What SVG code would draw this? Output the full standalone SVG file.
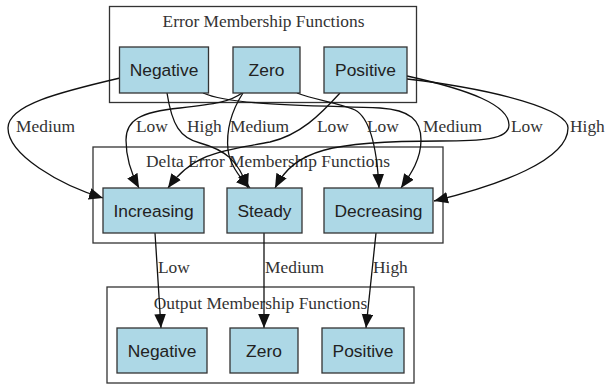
<svg xmlns="http://www.w3.org/2000/svg" width="606" height="386" viewBox="0 0 606 386">
<style>
.cl{fill:none;stroke:#333;stroke-width:1.3}
.nd{fill:#add8e6;stroke:#333;stroke-width:1.3}
.nt{font-family:"Liberation Sans",Arial,sans-serif;font-size:17.4px;fill:#222;text-anchor:middle}
.ct{font-family:"Liberation Serif","Times New Roman",serif;font-size:17.4px;fill:#333;text-anchor:middle}
.el{font-family:"Liberation Serif","Times New Roman",serif;font-size:17.4px;fill:#333}
.e{fill:none;stroke:#111;stroke-width:1.3;marker-end:url(#ah)}
</style>
<defs>
<marker id="ah" markerUnits="userSpaceOnUse" markerWidth="14" markerHeight="12" viewBox="0 0 12 10" refX="12" refY="5" orient="auto">
<path d="M0,0 L12,5 L0,10 Z" fill="#111"/>
</marker>
</defs>
<rect width="606" height="386" fill="#fff"/>
<g id="cluster_error">
<rect class="cl" x="109.5" y="6.5" width="307" height="96"/>
<text class="ct" x="263.5" y="27">Error Membership Functions</text>
</g>
<g id="cluster_delta">
<rect class="cl" x="93" y="147" width="350" height="96"/>
<text class="ct" x="268" y="167">Delta Error Membership Functions</text>
</g>
<g id="cluster_output">
<rect class="cl" x="107" y="287" width="307" height="96"/>
<text class="ct" x="260.5" y="309">Output Membership Functions</text>
</g>
<g id="connectors">
<path class="e" d="M120,78 C60,92 8,105 8,128 C8,155 60,185 103,198"/>
<text class="el" x="16" y="132">Medium</text>
<path class="e" d="M167,93 C172,125 180,138 200,143 C225,150 238,160 248,188"/>
<text class="el" x="187" y="132">High</text>
<path class="e" d="M203,93 C230,105 300,105 380,108 C410,110 421,120 421,140 C421,160 410,175 401,188"/>
<text class="el" x="423" y="132">Medium</text>
<path class="e" d="M242,93 C230,102 215,104 180,108 C140,112 126,120 126,140 C126,160 132,175 139,188"/>
<text class="el" x="136" y="132">Low</text>
<path class="e" d="M243,93 C232,110 226,130 228,150 C230,165 240,178 250,188"/>
<text class="el" x="230" y="132">Medium</text>
<path class="e" d="M297,93 C315,100 340,103 355,110 C370,118 377,150 379,188"/>
<text class="el" x="367" y="132">Low</text>
<path class="e" d="M340,93 C320,115 300,135 270,142 C230,150 195,150 168,188"/>
<text class="el" x="317" y="132">Low</text>
<path class="e" d="M407,76 C470,90 509,105 509,125 C509,140 480,141 440,141 C330,141 295,150 275,188"/>
<text class="el" x="511" y="132">Low</text>
<path class="e" d="M407,79 C500,90 568,110 568,128 C568,160 500,185 434,201"/>
<text class="el" x="570" y="132">High</text>
<path class="e" d="M155,233 L161,328"/>
<text class="el" x="158" y="273">Low</text>
<path class="e" d="M264,233 L264,328"/>
<text class="el" x="265" y="273">Medium</text>
<path class="e" d="M376,233 L366,328"/>
<text class="el" x="373" y="273">High</text>
</g>
<g id="e_negative"><rect class="nd" x="119.5" y="47" width="89" height="46"/><text class="nt" x="164" y="76">Negative</text></g>
<g id="e_zero"><rect class="nd" x="233" y="47" width="67" height="46"/><text class="nt" x="266.5" y="76">Zero</text></g>
<g id="e_positive"><rect class="nd" x="324" y="47" width="83" height="46"/><text class="nt" x="365.5" y="76">Positive</text></g>
<g id="d_increasing"><rect class="nd" x="103" y="188" width="101" height="45"/><text class="nt" x="153.5" y="217">Increasing</text></g>
<g id="d_steady"><rect class="nd" x="227" y="188" width="75" height="45"/><text class="nt" x="264.5" y="217">Steady</text></g>
<g id="d_decreasing"><rect class="nd" x="324" y="188" width="109" height="45"/><text class="nt" x="378.5" y="217">Decreasing</text></g>
<g id="o_negative"><rect class="nd" x="117" y="328" width="90" height="45"/><text class="nt" x="162" y="357">Negative</text></g>
<g id="o_zero"><rect class="nd" x="230" y="328" width="68" height="45"/><text class="nt" x="264" y="357">Zero</text></g>
<g id="o_positive"><rect class="nd" x="322" y="328" width="82" height="45"/><text class="nt" x="363" y="357">Positive</text></g>
</svg>
